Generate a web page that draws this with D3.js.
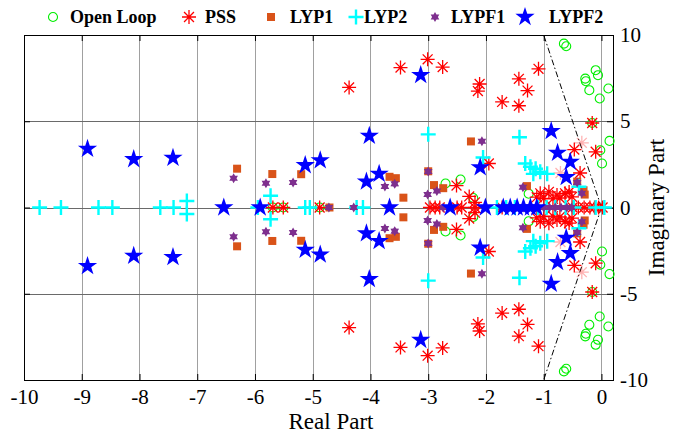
<!DOCTYPE html>
<html>
<head>
<meta charset="utf-8">
<script src="https://cdn.jsdelivr.net/npm/d3@7"></script>
<style>
  body { margin: 0; background: #fff; }
</style>
</head>
<body>
<div id="chart"></div>
<script>
// poles as [real, imag]
var openLoop = [
  [-0.65, 9.50], [-0.65, -9.50], [-0.61, 9.35], [-0.61, -9.35],
  [-0.10, 7.96], [-0.10, -7.96], [-0.06, 7.67], [-0.06, -7.67],
  [-0.28, 7.47], [-0.28, -7.47], [-0.27, 7.32], [-0.27, -7.32],
  [0.12, 6.90], [0.12, -6.90], [-0.21, 6.80], [-0.21, -6.80],
  [-0.03, 6.32], [-0.03, -6.32], [-0.16, 4.90], [-0.16, -4.90],
  [0.14, 3.86], [0.14, -3.86], [-0.02, 3.32], [-0.02, -3.32],
  [0.01, 2.55], [0.01, -2.55], [-1.26, 0.80], [-1.26, -0.80],
  [-2.70, 1.39], [-2.70, -1.39], [-2.44, 1.62], [-2.44, -1.62],
  [-2.22, 0.55], [-2.22, -0.55],
  [-5.69, 0], [-5.51, 0], [-4.88, 0]
];
var pss = [
  [-4.37, 6.96], [-4.37, -6.96], [-3.48, 8.11], [-3.48, -8.11],
  [-3.01, 8.59], [-3.01, -8.59], [-2.75, 8.14], [-2.75, -8.14],
  [-2.11, 7.16], [-2.11, -7.16], [-2.14, 6.75], [-2.14, -6.75],
  [-1.43, 7.46], [-1.43, -7.46], [-1.09, 8.04], [-1.09, -8.04],
  [-1.28, 6.78], [-1.28, -6.78], [-1.72, 6.12], [-1.72, -6.12],
  [-1.43, 5.90], [-1.43, -5.90], [-0.16, 4.90], [-0.16, -4.90],
  [-0.47, 3.36], [-0.47, -3.36], [-0.10, 3.23], [-0.10, -3.23],
  [-0.37, 2.00], [-0.37, -2.00], [-1.95, 2.55], [-1.95, -2.55],
  [-2.51, 1.27], [-2.51, -1.27], [-2.29, 0.64], [-2.29, -0.64],
  [-2.19, 0.30], [-2.19, -0.30],
  [-1.12, 0.60], [-1.12, -0.60], [-1.06, 0.82], [-1.06, -0.82],
  [-1.00, 0.53], [-1.00, -0.53], [-0.91, 0.91], [-0.91, -0.91],
  [-0.84, 0.50], [-0.84, -0.50], [-0.77, 0.72], [-0.77, -0.72],
  [-0.72, 0.55], [-0.72, -0.55], [-0.63, 0.82], [-0.63, -0.82],
  [-0.56, 0.90], [-0.56, -0.90], [-0.51, 0.62], [-0.51, -0.62],
  [-5.69, 0], [-5.51, 0], [-4.88, 0], [-2.97, 0], [-2.88, 0], [-2.80, 0],
  [-2.50, 0], [-2.42, 0], [-2.19, 0], [-1.72, 0],
  [-0.50, 0], [-0.40, 0], [-0.30, 0], [-0.20, 0], [-0.12, 0], [-0.05, 0], [0.02, 0]
];
var pssFaint = [
  [-0.34, 3.75], [-0.34, -3.75], [-0.71, 2.00], [-0.71, -2.00]
];
var lyp1 = [
  [-6.31, 2.25], [-6.31, -2.25], [-5.70, 1.94], [-5.70, -1.94],
  [-5.20, 1.93], [-5.20, -1.93], [-4.71, 0],
  [-3.67, 1.78], [-3.67, -1.78], [-3.56, 1.70], [-3.56, -1.70],
  [-3.43, 0.57], [-3.43, -0.57], [-3.00, 2.10], [-3.00, -2.10],
  [-2.90, 1.30], [-2.90, -1.30], [-2.74, 1.12], [-2.74, -1.12],
  [-2.26, 3.83], [-2.26, -3.83], [-1.29, 1.24], [-1.29, -1.24],
  [-0.42, 1.50], [-0.42, -1.50], [-0.31, 1.00], [-0.31, -1.00],
  [-0.29, 0.75], [-0.29, -0.75]
];
var lyp2 = [
  [-9.73, 0], [-9.36, 0], [-8.71, 0], [-8.47, 0], [-7.64, 0], [-7.41, 0],
  [-7.18, 0.38], [-7.18, -0.38], [-5.95, 0], [-5.73, 0.68], [-5.73, -0.68],
  [-5.13, 0], [-5.05, 0], [-4.24, 0], [-4.13, 0],
  [-3.00, 4.24], [-3.00, -4.24], [-2.05, 2.90], [-2.05, -2.90],
  [-1.42, 4.07], [-1.42, -4.07], [-1.32, 2.55], [-1.32, -2.55],
  [-1.23, 2.36], [-1.23, -2.36], [-1.14, 2.25], [-1.14, -2.25],
  [-1.06, 2.07], [-1.06, -2.07], [-0.94, 1.95], [-0.94, -1.95],
  [-1.18, 1.95], [-1.18, -1.95], [-0.39, 1.20], [-0.39, -1.20],
  [-1.81, 0], [-1.65, 0], [-1.50, 0], [-1.10, 0], [-0.95, 0], [-0.80, 0],
  [-0.62, 0], [-0.48, 0], [-0.10, 0], [0.05, 0]
];
var lypf1 = [
  [-6.37, 1.70], [-6.37, -1.70], [-5.81, 1.41], [-5.81, -1.41],
  [-5.34, 1.45], [-5.34, -1.45], [-4.72, 0], [-4.29, 0],
  [-3.75, 1.22], [-3.75, -1.22], [-3.58, 1.37], [-3.58, -1.37],
  [-3.00, 2.08], [-3.00, -2.08], [-3.01, 0.75], [-3.01, -0.75],
  [-2.85, 0.96], [-2.85, -0.96], [-2.74, 0], [-2.07, 3.84], [-2.07, -3.84],
  [-1.72, 0], [-1.36, 1.17], [-1.36, -1.17], [-0.42, 1.45], [-0.42, -1.45],
  [-0.34, 0.82], [-0.34, -0.82],
  [-1.35, 0], [-1.00, 0], [-0.90, 0], [-0.80, 0], [-0.70, 0], [-0.60, 0], [-0.52, 0]
];
var lypf2 = [
  [-8.90, 3.40], [-8.90, -3.40], [-8.10, 2.80], [-8.10, -2.80],
  [-7.42, 2.88], [-7.42, -2.88], [-6.54, 0], [-5.91, 0],
  [-5.13, 2.45], [-5.13, -2.45], [-4.87, 2.73], [-4.87, -2.73],
  [-4.02, 4.15], [-4.02, -4.15], [-4.07, 1.50], [-4.07, -1.50],
  [-3.85, 1.95], [-3.85, -1.95], [-3.67, 0], [-3.13, 7.68], [-3.13, -7.68],
  [-2.62, 0], [-2.10, 2.33], [-2.10, -2.33], [-2.01, 0],
  [-0.87, 4.43], [-0.87, -4.43], [-0.76, 3.17], [-0.76, -3.17],
  [-0.54, 2.65], [-0.54, -2.65], [-0.61, 1.76], [-0.61, -1.76],
  [-1.70, 0], [-1.58, 0], [-1.46, 0], [-1.35, 0], [-1.23, 0], [-1.12, 0]
];
var xTicks = [-10, -9, -8, -7, -6, -5, -4, -3, -2, -1, 0];
var yTicks = [-10, -5, 0, 5, 10];
var legendNames = ['Open Loop', 'PSS', 'LYP1', 'LYP2', 'LYPF1', 'LYPF2'];

(function() {
  var WIDTH = 699, HEIGHT = 434;
  var LEFT = 24, RIGHT = 613, TOP = 35, BOTTOM = 380;
  var FONT = 'Liberation Serif';

  var svg = d3.select('#chart').append('svg')
    .attr('width', WIDTH)
    .attr('height', HEIGHT);

  var x = d3.scaleLinear().domain([-10, 0.2]).range([LEFT, RIGHT]);
  var y = d3.scaleLinear().domain([-10, 10]).range([BOTTOM, TOP]);

  // grid
  svg.append('g').selectAll('line')
    .data(xTicks.slice(1))
    .enter().append('line')
      .attr('x1', function(d) { return Math.round(x(d)) + 0.5; })
      .attr('x2', function(d) { return Math.round(x(d)) + 0.5; })
      .attr('y1', TOP).attr('y2', BOTTOM)
      .style('stroke', '#a0a0a0').style('stroke-width', 1);
  svg.append('g').selectAll('line')
    .data([-5, 0, 5])
    .enter().append('line')
      .attr('x1', LEFT).attr('x2', RIGHT)
      .attr('y1', function(d) { return Math.round(y(d)) + 0.5; })
      .attr('y2', function(d) { return Math.round(y(d)) + 0.5; })
      .style('stroke', '#6a6a6a').style('stroke-width', 1);

  // damping lines
  var dampLine = d3.line().x(function(d) { return x(d[0]); }).y(function(d) { return y(d[1]); });
  [[[0, 0], [-1, 10]], [[0, 0], [-1, -10]]].forEach(function(seg) {
    svg.append('path')
      .attr('d', dampLine(seg))
      .style('fill', 'none')
      .style('stroke', '#000')
      .style('stroke-width', 1)
      .style('stroke-dasharray', '6,2.5,1.5,2.5');
  });

  // axes
  var fmt = function(d) { return d < 0 ? '-' + Math.abs(d) : d; };
  var xBottom = d3.axisBottom(x).tickValues(xTicks).tickSizeInner(-6).tickSizeOuter(0).tickPadding(9).tickFormat(fmt);
  var xTop = d3.axisTop(x).tickValues(xTicks).tickSizeInner(-6).tickSizeOuter(0).tickFormat('');
  var yRight = d3.axisRight(y).tickValues(yTicks).tickSizeInner(-6).tickSizeOuter(0).tickPadding(7).tickFormat(fmt);
  var yLeft = d3.axisLeft(y).tickValues(yTicks).tickSizeInner(-6).tickSizeOuter(0).tickFormat('');

  svg.append('g').attr('transform', 'translate(0,' + BOTTOM + ')').call(xBottom);
  svg.append('g').attr('transform', 'translate(0,' + TOP + ')').call(xTop);
  svg.append('g').attr('transform', 'translate(' + RIGHT + ',0)').call(yRight);
  svg.append('g').attr('transform', 'translate(' + LEFT + ',0)').call(yLeft);
  svg.selectAll('.domain').remove();
  svg.selectAll('.tick line').style('stroke', '#000');
  svg.selectAll('.tick text').style('font-size', '21px');

  svg.append('rect')
    .attr('x', LEFT + 0.5).attr('y', TOP + 0.5)
    .attr('width', RIGHT - LEFT).attr('height', BOTTOM - TOP)
    .style('fill', 'none').style('stroke', '#000').style('stroke-width', 1);

  // marker shapes
  function asterisk(r) {
    var d = r * Math.SQRT1_2;
    return 'M' + (-r) + ',0L' + r + ',0M0,' + (-r) + 'L0,' + r +
      'M' + (-d) + ',' + (-d) + 'L' + d + ',' + d + 'M' + (-d) + ',' + d + 'L' + d + ',' + (-d);
  }
  function plus(r) {
    return 'M' + (-r) + ',0L' + r + ',0M0,' + (-r) + 'L0,' + r;
  }
  function hexagram(r) {
    var pts = [];
    for (var i = 0; i < 12; i++) {
      var a = i * Math.PI / 6 - Math.PI / 2;
      var rr = i % 2 ? r * 0.58 : r;
      pts.push([rr * Math.cos(a), rr * Math.sin(a)]);
    }
    return 'M' + pts.join('L') + 'Z';
  }
  var starPath = d3.symbol().type(d3.symbolStar).size(115)();
  var squarePath = 'M-4,-4L4,-4L4,4L-4,4Z';

  var styles = [
    { path: d3.symbol().type(d3.symbolCircle).size(64)(), fill: 'none', stroke: '#00ee00', sw: 1.1 },
    { path: asterisk(7), fill: 'none', stroke: '#ff0000', sw: 1.3 },
    { path: squarePath, fill: '#d95319', stroke: 'none', sw: 0 },
    { path: plus(7.5), fill: 'none', stroke: '#00ffff', sw: 2.4 },
    { path: hexagram(5), fill: '#7e2f8e', stroke: 'none', sw: 0 },
    { path: starPath, fill: '#0000ff', stroke: 'none', sw: 0 }
  ];
  var series = [openLoop, pss, lyp1, lyp2, lypf1, lypf2];

  function drawMarks(data, st, opacity) {
    svg.append('g').selectAll('path')
      .data(data)
      .enter().append('path')
        .attr('d', st.path)
        .attr('transform', function(d) { return 'translate(' + x(d[0]) + ',' + y(d[1]) + ')'; })
        .style('fill', st.fill)
        .style('stroke', st.stroke)
        .style('stroke-width', st.sw)
        .style('opacity', opacity);
  }

  series.forEach(function(data, idx) {
    drawMarks(data, styles[idx], 1);
    if (idx === 1) drawMarks(pssFaint, styles[1], 0.3);
  });

  // legend
  var legendX = [53, 189, 271, 356, 435, 525];
  var legendTextX = [70, 205, 290, 364, 451, 549];
  var legend = svg.append('g');
  legendNames.forEach(function(name, idx) {
    legend.append('path')
      .attr('d', styles[idx].path)
      .attr('transform', 'translate(' + legendX[idx] + ',17)')
      .style('fill', styles[idx].fill)
      .style('stroke', styles[idx].stroke)
      .style('stroke-width', styles[idx].sw);
    legend.append('text')
      .attr('x', legendTextX[idx])
      .attr('y', 23)
      .style('font-size', '18px')
      .style('font-weight', 'bold')
      .text(name);
  });

  // axis titles
  svg.append('text')
    .attr('x', 331)
    .attr('y', 429)
    .attr('text-anchor', 'middle')
    .style('font-size', '23px')
    .text('Real Part');
  svg.append('text')
    .attr('transform', 'translate(664,' + y(0) + ') rotate(-90)')
    .attr('text-anchor', 'middle')
    .style('font-size', '23px')
    .text('Imaginary Part');

  svg.selectAll('text')
    .attr('font-family', null)
    .style('font-family', FONT)
    .style('fill', '#000');
})();
</script>
</body>
</html>
